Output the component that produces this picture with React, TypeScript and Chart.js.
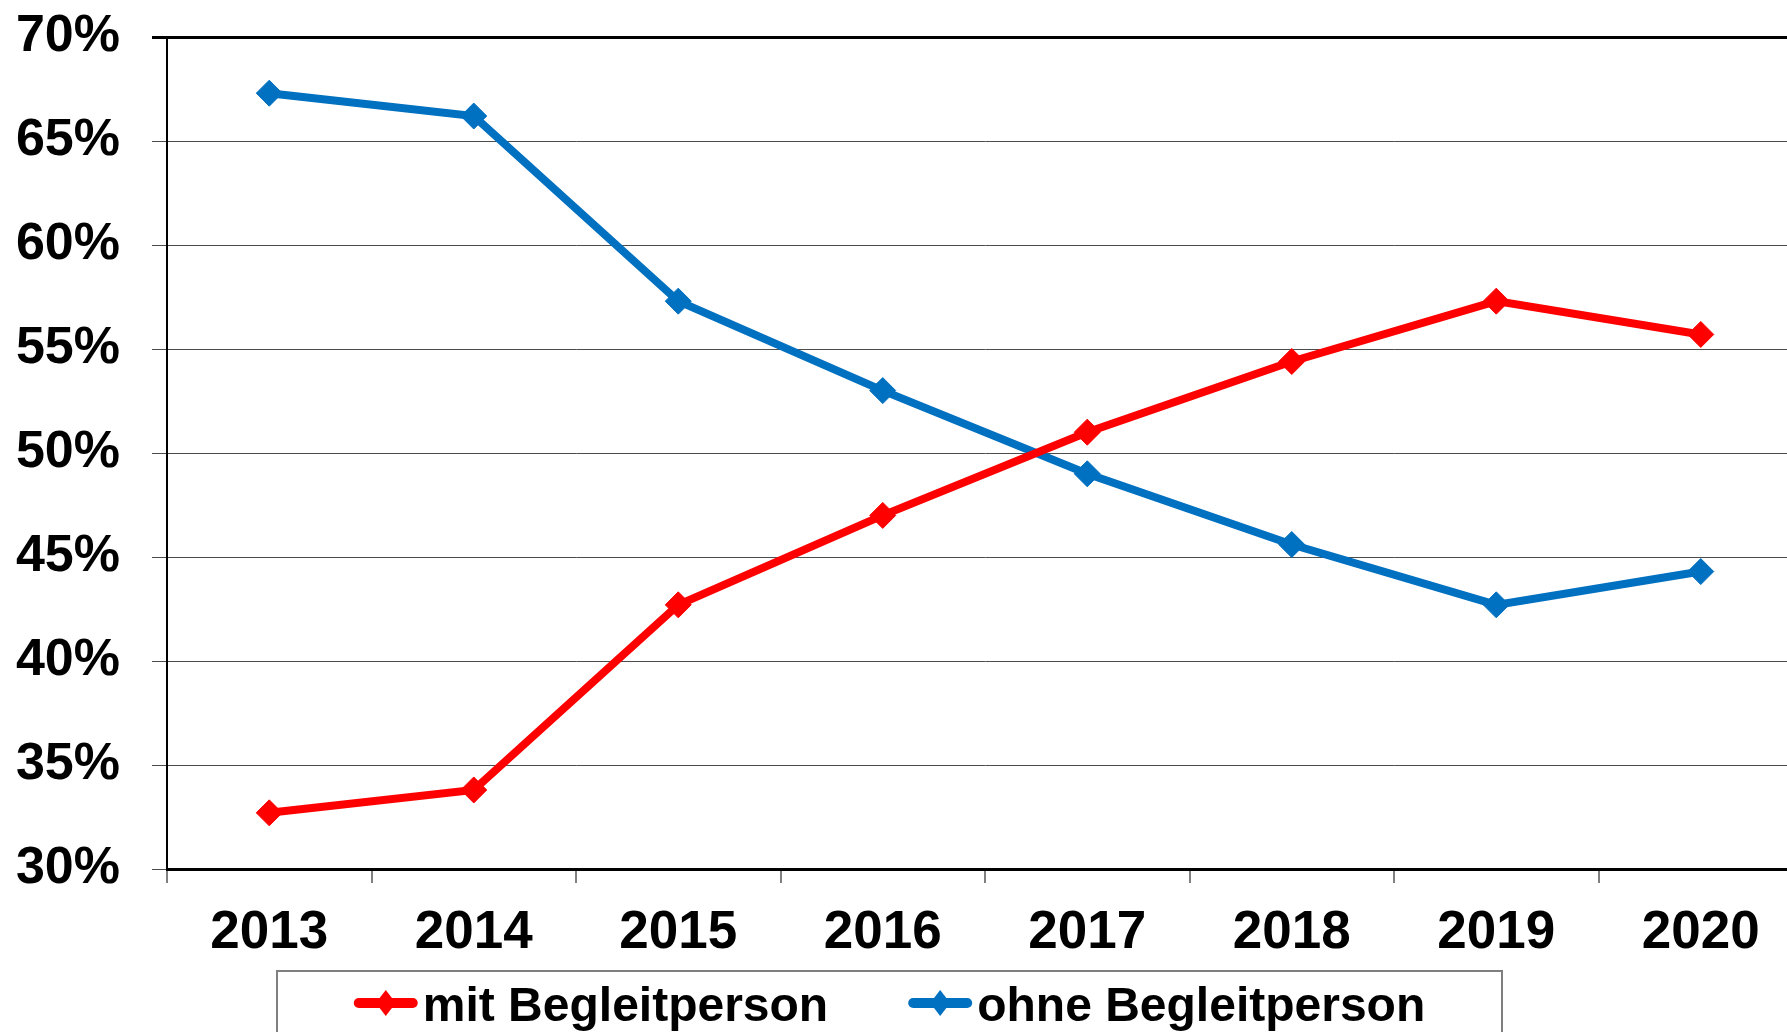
import React, { useEffect, useRef } from "react";
import { Chart, registerables } from "chart.js";

Chart.register(...registerables);

const years = ["2013", "2014", "2015", "2016", "2017", "2018", "2019", "2020"];
const mitBegleitperson = [32.7, 33.8, 42.7, 47.0, 51.0, 54.4, 57.3, 55.7];
const ohneBegleitperson = [67.3, 66.2, 57.3, 53.0, 49.0, 45.6, 42.7, 44.3];
const seriesLabels = ["mit Begleitperson", "ohne Begleitperson"];
const seriesColors = ["#FF0000", "#0070C0"];

const TICK_FONT = "'Liberation Sans', Arial, sans-serif";
const LEGEND_FONT = "'Liberation Sans', Arial, sans-serif";

const legendPlugin = {
  id: "boxLegend",
  afterDraw(chart: any) {
    const ctx = chart.ctx as CanvasRenderingContext2D;
    const boxLeft = 277;
    const boxRight = 1502;
    const boxTop = 971;
    ctx.save();
    ctx.strokeStyle = "#7f7f7f";
    ctx.lineWidth = 2;
    ctx.beginPath();
    ctx.moveTo(boxLeft, chart.height + 5);
    ctx.lineTo(boxLeft, boxTop);
    ctx.lineTo(boxRight, boxTop);
    ctx.lineTo(boxRight, chart.height + 5);
    ctx.stroke();

    ctx.font = `bold 48px ${LEGEND_FONT}`;
    ctx.textBaseline = "alphabetic";
    ctx.textAlign = "left";
    const markerW = 64;
    const textGap = 5;
    const itemGap = 80;
    const items = chart.data.datasets.map((ds: any) => ({
      label: ds.label as string,
      color: ds.borderColor as string,
      w: ctx.measureText(ds.label).width,
    }));
    const total =
      items.reduce((s: number, it: any) => s + markerW + textGap + it.w, 0) +
      itemGap * (items.length - 1);
    let x = (boxLeft + boxRight) / 2 - total / 2;
    const cy = 1003;
    const baseline = 1021;
    items.forEach((it: any) => {
      ctx.strokeStyle = it.color;
      ctx.fillStyle = it.color;
      ctx.lineWidth = 10;
      ctx.lineCap = "round";
      ctx.beginPath();
      ctx.moveTo(x + 5, cy);
      ctx.lineTo(x + markerW - 5, cy);
      ctx.stroke();
      const mx = x + markerW / 2;
      ctx.beginPath();
      ctx.moveTo(mx - 10, cy);
      ctx.lineTo(mx, cy - 13);
      ctx.lineTo(mx + 10, cy);
      ctx.lineTo(mx, cy + 13);
      ctx.closePath();
      ctx.fill();
      ctx.fillStyle = "#000000";
      ctx.fillText(it.label, x + markerW + textGap, baseline);
      x += markerW + textGap + it.w + itemGap;
    });
    ctx.restore();
  },
};

export default function App() {
  const canvasRef = useRef<HTMLCanvasElement | null>(null);

  useEffect(() => {
    document.documentElement.style.overflow = "hidden";
    document.body.style.overflow = "hidden";
    const canvas = canvasRef.current;
    if (!canvas) return;
    const chart = new Chart(canvas, {
      type: "line",
      data: {
        labels: years,
        datasets: [
          {
            label: seriesLabels[0],
            data: mitBegleitperson,
            borderColor: seriesColors[0],
            backgroundColor: seriesColors[0],
            borderWidth: 8,
            pointStyle: "rectRot",
            pointRadius: 13,
            pointBorderWidth: 1,
            pointBackgroundColor: seriesColors[0],
            pointBorderColor: seriesColors[0],
            tension: 0,
          },
          {
            label: seriesLabels[1],
            data: ohneBegleitperson,
            borderColor: seriesColors[1],
            backgroundColor: seriesColors[1],
            borderWidth: 8,
            pointStyle: "rectRot",
            pointRadius: 13,
            pointBorderWidth: 1,
            pointBackgroundColor: seriesColors[1],
            pointBorderColor: seriesColors[1],
            tension: 0,
          },
        ],
      },
      options: {
        responsive: false,
        animation: false,
        devicePixelRatio: 1,
        layout: { padding: { left: 0, top: 37, right: 27, bottom: 0 } },
        plugins: {
          legend: { display: false },
          tooltip: { enabled: false },
          title: { display: false },
        },
        scales: {
          x: {
            type: "category",
            offset: true,
            grid: {
              offset: true,
              drawOnChartArea: false,
              drawTicks: true,
              tickLength: 14,
              color: "#808080",
              lineWidth: 2,
            },
            border: { display: true, color: "#000000", width: 3 },
            ticks: {
              color: "#000000",
              padding: 19,
              font: { family: TICK_FONT, size: 53, weight: "bold" },
              maxRotation: 0,
              autoSkip: false,
            },
            afterFit(scale: any) {
              scale.height = 1032 - 869;
              scale.paddingLeft = 0;
              scale.paddingRight = 0;
            },
          },
          y: {
            min: 30,
            max: 70,
            ticks: {
              stepSize: 5,
              color: "#000000",
              padding: 32,
              font: { family: TICK_FONT, size: 52, weight: "bold" },
              callback: (v: any) => `${v}%`,
            },
            grid: {
              tickLength: 15,
              color: (c: any) => (c.tick && c.tick.value === 70 ? "#000000" : "#4d4d4d"),
              lineWidth: (c: any) => (c.tick && c.tick.value === 70 ? 3 : 1),
            },
            border: { display: true, color: "#000000", width: 2 },
            afterFit(scale: any) {
              scale.width = 167;
              scale.paddingTop = 0;
              scale.paddingBottom = 0;
            },
          },
        },
      },
      plugins: [legendPlugin],
    });
    return () => chart.destroy();
  }, []);

  return (
    <div
      style={{
        position: "fixed",
        left: 0,
        top: 0,
        width: 1787,
        height: 1032,
        overflow: "hidden",
        background: "#ffffff",
      }}
    >
      <canvas ref={canvasRef} width={1830} height={1032} style={{ display: "block" }} />
    </div>
  );
}
